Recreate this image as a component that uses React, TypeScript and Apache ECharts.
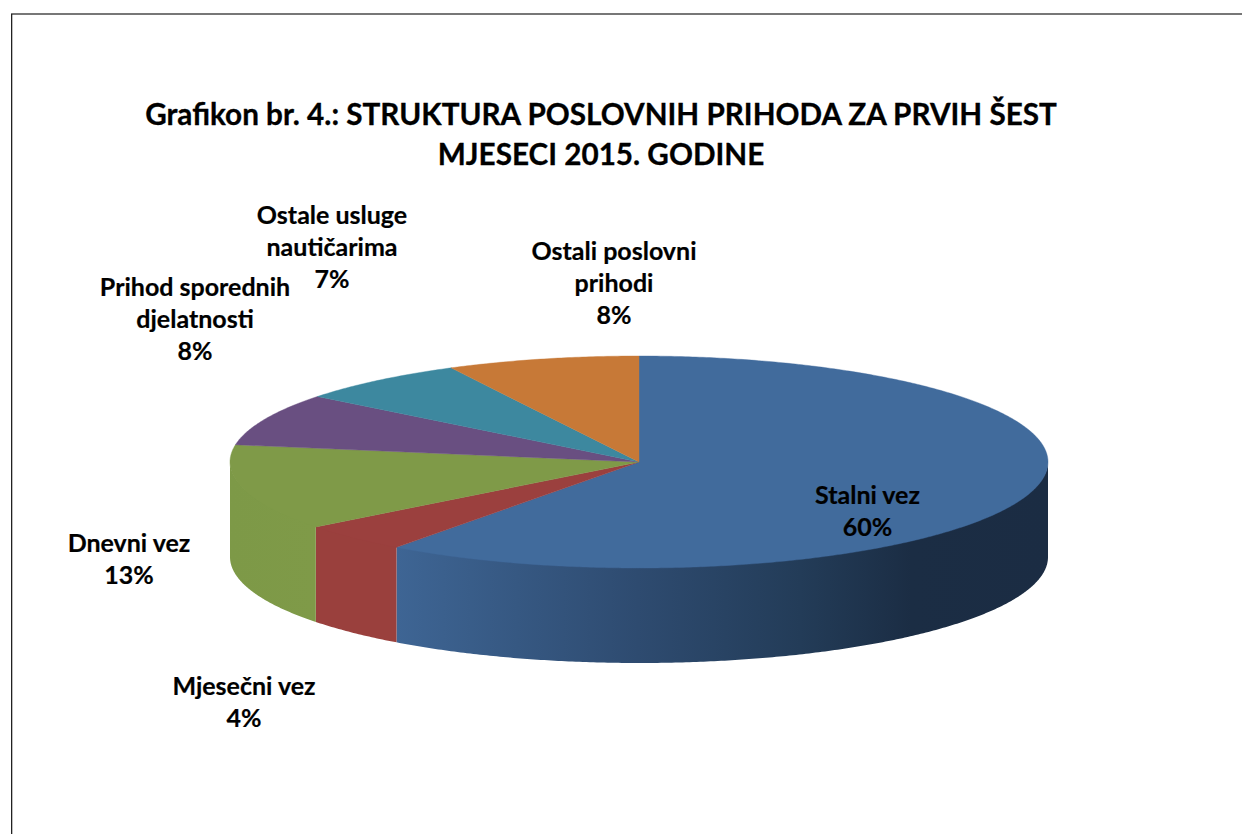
import React, { useEffect, useRef } from "react";
import * as echarts from "echarts";

const titleLines = ["Grafikon br. 4.: STRUKTURA POSLOVNIH PRIHODA ZA PRVIH ŠEST", "MJESECI 2015. GODINE"];
const categories = ["Stalni vez", "Mjesečni vez", "Dnevni vez", "Prihod sporednih\ndjelatnosti", "Ostale usluge\nnautičarima", "Ostali poslovni\nprihodi"];
const shares = [60.1, 4.4, 13.1, 8.0, 6.8, 7.6];
const topColors = ["#416b9c", "#9b403e", "#7f9a48", "#694f81", "#3d889f", "#c77937"];
const wallColors: [string, string][] = [["#3e6594", "#1b2d44"], ["#9a403d", "#9a403d"], ["#7d9947", "#7f9a48"], ["#694f81", "#694f81"], ["#3d889f", "#3d889f"], ["#c77937", "#c77937"]];
const labelCenters = [[867.5, 510], [244, 701], [129, 558], [195, 318], [332, 246], [614, 282]];

const CX = 639, CY = 462, RX = 409, RY = 106, DEPTH = 95;
const LABEL_FONT = 'bold 25px Lato, "Open Sans", sans-serif';

function rimPoint(deg: number, drop = 0): number[] {
  const r = (deg * Math.PI) / 180;
  return [CX + RX * Math.sin(r), CY - RY * Math.cos(r) + drop];
}
function arcPoints(a: number, b: number, drop = 0): number[][] {
  const n = Math.max(2, Math.ceil(Math.abs(b - a) * 2));
  const pts: number[][] = [];
  for (let i = 0; i <= n; i++) pts.push(rimPoint(a + ((b - a) * i) / n, drop));
  return pts;
}

export default function App() {
  const ref = useRef<HTMLDivElement>(null);
  useEffect(() => {
    document.body.style.margin = "0";
    const chart = echarts.init(ref.current!, null, { renderer: "svg" });
    const total = shares.reduce((s, v) => s + v, 0);
    const starts: number[] = [];
    let acc = 0;
    shares.forEach((v) => { starts.push(acc); acc += v; });

    const renderItem = (params: any, api: any) => {
      const i = params.dataIndex;
      const value = api.value(0);
      const a0 = (starts[i] / total) * 360;
      const a1 = a0 + (value / total) * 360;
      const children: any[] = [];
      const w0 = Math.max(a0, 90), w1 = Math.min(a1, 270);
      if (w1 > w0) {
        // The wall reaches a little under the top face, so no seam shows.
        const top = arcPoints(w0, w1, -1);
        const bottom = arcPoints(w1, w0, DEPTH);
        const colorStops = i === 0
          ? [
              { offset: 0, color: "#3e6594" },
              { offset: 0.37, color: "#2e4b70" },
              { offset: 0.62, color: "#233c58" },
              { offset: 0.79, color: "#1b2d44" },
              { offset: 1, color: "#1b2c43" },
            ]
          : [
              { offset: 0, color: wallColors[i][0] },
              { offset: 1, color: wallColors[i][1] },
            ];
        children.push({
          type: "polygon",
          shape: { points: [...top, ...bottom] },
          style: {
            fill: new echarts.graphic.LinearGradient(0, 0, 1, 0, colorStops),
          },
        });
      }
      children.push({
        type: "polygon",
        shape: { points: [[CX, CY], ...arcPoints(a0, a1)] },
        style: { fill: topColors[i], stroke: topColors[i], lineWidth: 0.4 },
      });
      return { type: "group", children };
    };

    const labelGraphics = categories.map((c, i) => ({
      type: "text",
      x: labelCenters[i][0],
      y: labelCenters[i][1],
      z: 10,
      style: {
        text: `${c}\n${Math.round(shares[i])}%`,
        font: LABEL_FONT,
        fill: "#000",
        stroke: "#000",
        lineWidth: 0.2,
        textAlign: "center",
        textVerticalAlign: "middle",
        lineHeight: 32,
      },
    }));

    chart.setOption({
      animation: false,
      backgroundColor: "#ffffff",
      title: {
        text: titleLines.join("\n"),
        left: 596,
        top: 88,
        textAlign: "center",
        textStyle: { fontFamily: 'Lato, "Open Sans", sans-serif', fontWeight: "bold", fontSize: 29.7, lineHeight: 40, color: "#000", textBorderColor: "#000", textBorderWidth: 0.3 },
      },
      graphic: [
        { type: "rect", shape: { x: 11, y: 13, width: 1231, height: 2 }, style: { fill: "#777777" } },
        { type: "rect", shape: { x: 11, y: 14, width: 1.3, height: 820 }, style: { fill: "#222222" } },
        ...labelGraphics,
      ],
      series: [{
        type: "custom",
        coordinateSystem: "none",
        renderItem,
        data: shares.map((v, i) => ({ name: categories[i], value: [v] })),
        silent: true,
      }],
    });
    return () => chart.dispose();
  }, []);
  return <div ref={ref} style={{ position: "fixed", left: 0, top: 0, width: 1242, height: 834 }} />;
}
